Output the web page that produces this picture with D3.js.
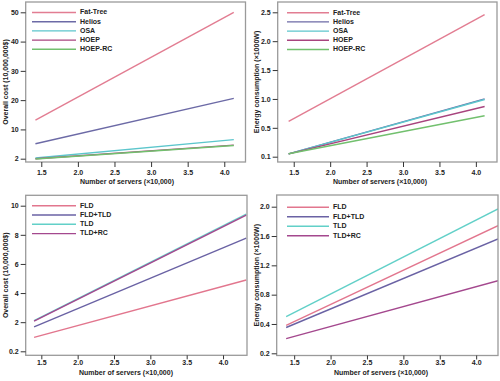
<!DOCTYPE html>
<html><head><meta charset="utf-8">
<script src="https://cdn.jsdelivr.net/npm/d3@7"></script>
<style>
html,body{margin:0;padding:0;background:#fff;}
svg{display:block;font-family:"Liberation Sans",Arial,sans-serif;font-weight:bold;}
</style></head>
<body>
<svg id="c" width="500" height="381"></svg>
<script>
// ---- data ----
const xTicks = [1.5, 2.0, 2.5, 3.0, 3.5, 4.0];
const xTitle = "Number of servers (×10,000)";

const topNames = ["Fat-Tree", "Helios", "OSA", "HOEP", "HOEP-RC"];
const topColors = ["#e27d92", "#6c6aa6", "#5cc6cc", "#a8447e", "#72c06e"];

const costServers = [1.42, 4.13];
const costFatTree = [13.2, 50];
const costHelios = [6.1, 20.6];
const costOSA = [2.2, 7.2];
const costHOEP = [2.0, 5.7];
const costHOEPRC = [1.9, 5.6];
const costTicks = [2, 10, 20, 30, 40, 50];

const energyServers = [1.43, 4.12];
const energyFatTree = [0.61, 2.46];
const energyHelios = [0.14, 1.0];
const energyOSA = [0.14, 0.99];
const energyHOEP = [0.14, 0.87];
const energyHOEPRC = [0.14, 0.71];
const energyTicks = [0.1, 0.5, 1.0, 1.5, 2.0, 2.5];

const botNames = ["FLD", "FLD+TLD", "TLD", "TLD+RC"];
const botColors = ["#e2768e", "#6a62a4", "#62d0c8", "#a4488e"];

const cost2Servers = [1.40, 4.32];
const cost2FLD = [1.06, 4.9];
const cost2FLDTLD = [1.71, 7.78];
const cost2TLD = [2.1, 9.42];
const cost2TLDRC = [2.07, 9.36];
const cost2Ticks = [0.2, 2, 4, 6, 8, 10];

const energy2Servers = [1.39, 4.3];
const energy2FLD = [0.39, 1.74];
const energy2FLDTLD = [0.376, 1.56];
const energy2TLD = [0.50, 1.97];
const energy2TLDRC = [0.30, 0.99];
const energy2Ticks = [0.2, 0.4, 0.8, 1.2, 1.6, 2.0];

// ---- layout ----
const panels = [
  {x0:25.7, x1:245.5, y0:2, y1:162, tb:158.7, tt:12.3, xd:[1.287,4.29], fixed:false,
   tickLen:5, tickPad:3,
   yTitle:"Overall cost  (10,000,000$)", ylx:6, xtx:127, xty:182,
   ticks:costTicks, xs:costServers, names:topNames, colors:topColors,
   series:[costFatTree,costHelios,costOSA,costHOEP,costHOEPRC],
   leg:{l0:32,l1:76,tx:80,ty:12.5,dy:9.2}},
  {x0:277.7, x1:497, y0:2, y1:162, tb:156.7, tt:12.3, xd:[1.28,4.29], fixed:true,
   tickLen:5, tickPad:3,
   yTitle:"Energy consumption  (×1000W)", ylx:257, xtx:380, xty:182,
   ticks:energyTicks, xs:energyServers, names:topNames, colors:topColors,
   series:[energyFatTree,energyHelios,energyOSA,energyHOEP,energyHOEPRC],
   leg:{l0:287,l1:329,tx:333,ty:12.7,dy:9.2}},
  {x0:25.7, x1:247, y0:195.3, y1:355.3, tb:351.3, tt:205.7, xd:[1.285,4.33], fixed:false,
   tickLen:4, tickPad:1,
   yTitle:"Overall cost  (10,000,000$)", ylx:6, xtx:126, xty:373.5,
   ticks:cost2Ticks, xs:cost2Servers, names:botNames, colors:botColors,
   series:[cost2FLD,cost2FLDTLD,cost2TLD,cost2TLDRC],
   leg:{l0:32,l1:76,tx:80,ty:205.7,dy:9.3}},
  {x0:276.7, x1:498, y0:195, y1:355.5, tb:353.3, tt:206.7, xd:[1.26,4.3], fixed:true,
   tickLen:4, tickPad:1,
   yTitle:"Energy consumption  (×1000W)", ylx:257, xtx:381, xty:373.5,
   ticks:energy2Ticks, xs:energy2Servers, names:botNames, colors:botColors,
   series:[energy2FLD,energy2FLDTLD,energy2TLD,energy2TLDRC],
   leg:{l0:287,l1:329,tx:333,ty:207.3,dy:9.5}}
];

const svg = d3.select("#c");
const fs = 7;

panels.forEach((p, pi) => {
  const x = d3.scaleLinear().domain(p.xd).range([p.x0, p.x1]);
  const n = p.ticks.length;
  const step = (p.tb - p.tt) / (n - 1);
  const y = d3.scaleLinear().domain(p.ticks).range(p.ticks.map((d, i) => p.tb - i * step));

  const g = svg.append("g");
  const clipId = "clip" + pi;
  svg.append("clipPath").attr("id", clipId).append("rect")
    .attr("x", p.x0).attr("y", p.y0).attr("width", p.x1 - p.x0).attr("height", p.y1 - p.y0);

  // lines
  const line = d3.line().x(d => x(d[0])).y(d => y(d[1]));
  const lg = g.append("g").attr("clip-path", `url(#${clipId})`);
  p.series.forEach((s, i) => {
    lg.append("path")
      .datum(p.xs.map((xv, j) => [xv, s[j]]))
      .attr("d", line).attr("fill", "none")
      .attr("stroke", p.colors[i]).attr("stroke-width", 1.4);
  });

  // frame
  g.append("rect").attr("x", p.x0).attr("y", p.y0)
    .attr("width", p.x1 - p.x0).attr("height", p.y1 - p.y0)
    .attr("fill", "none").attr("stroke", "#9a9a9a").attr("stroke-width", 1.3);

  // y axis
  const yfmt = d => (p.fixed ? d.toFixed(1) : (Number.isInteger(d) ? String(d) : d.toFixed(1)));
  const ya = d3.axisLeft(y).tickValues(p.ticks).tickSize(5).tickPadding(2).tickFormat(yfmt);
  const yg = g.append("g").attr("transform", `translate(${p.x0},0)`).call(ya);
  yg.select(".domain").remove();
  yg.selectAll("line").attr("stroke", "#333");
  yg.selectAll("text").attr("font-size", fs).attr("font-weight", "bold")
    .attr("font-family", "Liberation Sans, Arial, sans-serif").attr("fill", "#222");

  // x axis
  const xa = d3.axisBottom(x).tickValues(xTicks).tickSize(p.tickLen).tickPadding(p.tickPad)
    .tickFormat(d3.format(".1f"));
  const xg = g.append("g").attr("transform", `translate(0,${p.y1})`).call(xa);
  xg.select(".domain").remove();
  xg.selectAll("line").attr("stroke", "#333");
  xg.selectAll("text").attr("font-size", fs).attr("font-weight", "bold")
    .attr("font-family", "Liberation Sans, Arial, sans-serif").attr("fill", "#222");

  // titles
  g.append("text").attr("x", p.xtx).attr("y", p.xty).attr("text-anchor", "middle")
    .attr("dominant-baseline", "middle").attr("font-size", fs).attr("fill", "#222").text(xTitle);
  g.append("text").attr("transform", `translate(${p.ylx},${(p.y0 + p.y1) / 2}) rotate(-90)`)
    .attr("text-anchor", "middle").attr("dominant-baseline", "middle")
    .attr("font-size", fs).attr("fill", "#222").text(p.yTitle);

  // legend
  p.names.forEach((nm, i) => {
    const yy = p.leg.ty + i * p.leg.dy;
    g.append("line").attr("x1", p.leg.l0).attr("x2", p.leg.l1).attr("y1", yy).attr("y2", yy)
      .attr("stroke", p.colors[i]).attr("stroke-width", 1.4);
    g.append("text").attr("x", p.leg.tx).attr("y", yy).attr("dominant-baseline", "middle")
      .attr("font-size", fs).attr("fill", "#222").text(nm);
  });
});
</script>
</body></html>
